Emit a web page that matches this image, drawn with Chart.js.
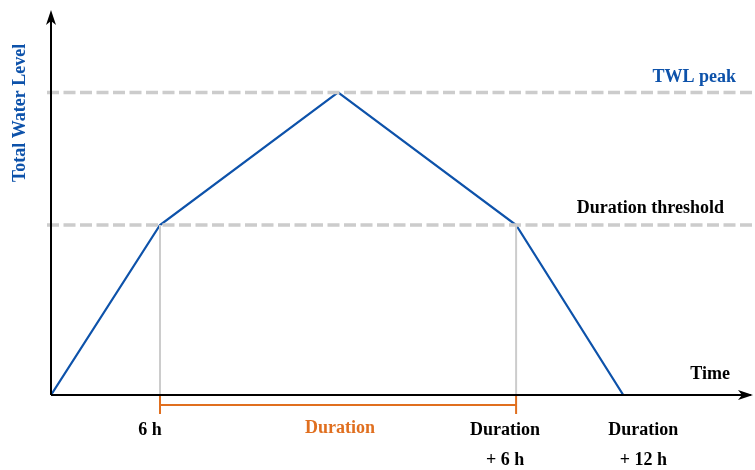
<!DOCTYPE html>
<html>
<head>
<meta charset="utf-8">
<script src="https://cdn.jsdelivr.net/npm/chart.js@4"></script>
<style>
  html, body { margin: 0; padding: 0; background: #fff; }
  #wrap { width: 755px; height: 470px; }
</style>
</head>
<body>
<div id="wrap"><canvas id="myChart"></canvas></div>
<script>
// hydrograph shape (x in hours, y in relative water level)
const timeHours = [0, 6, 15.8, 25.6, 31.5];
const waterLevel = [0, 1, 1.78, 1, 0];
const peakLevel = 1.78;
const thresholdLevel = 1;
const durationStart = 6;
const durationEnd = 25.6;
const xMax = 38.75;
const yMax = 2.265;

const tickLabels = [
  { x: 6, lines: ["6 h"] },
  { x: 25.6, lines: ["Duration", "+ 6 h"] },
  { x: 31.5, lines: ["Duration", "+ 12 h"] },
];
// nudge of each label centre from its tick, in px
const tickShift = [-10, -11, 20];

const BLUE = "#0d52aa";
const ORANGE = "#e06f1f";
const GREY = "#cccccc";
const FONT = "bold 18px 'Liberation Serif', 'Times New Roman', serif";

const pts = (xs, ys) => xs.map((x, i) => ({ x: x, y: ys[i] }));

const overlay = {
  id: "overlay",
  afterDatasetsDraw(chart) {
    const ctx = chart.ctx;
    const xs = chart.scales.x, ys = chart.scales.y;
    const x0 = xs.getPixelForValue(0);
    const y0 = ys.getPixelForValue(0);
    const area = chart.chartArea;
    ctx.save();

    // axes with arrows
    ctx.strokeStyle = "#000";
    ctx.fillStyle = "#000";
    ctx.lineWidth = 2;
    ctx.beginPath();
    ctx.moveTo(x0, y0);
    ctx.lineTo(x0, area.top + 4);
    ctx.moveTo(x0, y0);
    ctx.lineTo(area.right - 4, y0);
    ctx.stroke();
    ctx.beginPath();
    ctx.moveTo(x0, area.top);
    ctx.lineTo(x0 - 5, area.top + 15);
    ctx.lineTo(x0, area.top + 11);
    ctx.lineTo(x0 + 5, area.top + 15);
    ctx.closePath();
    ctx.fill();
    ctx.beginPath();
    ctx.moveTo(area.right - 2, y0);
    ctx.lineTo(area.right - 17, y0 - 5);
    ctx.lineTo(area.right - 13, y0);
    ctx.lineTo(area.right - 17, y0 + 5);
    ctx.closePath();
    ctx.fill();

    // duration bracket
    const bx1 = xs.getPixelForValue(durationStart);
    const bx2 = xs.getPixelForValue(durationEnd);
    ctx.strokeStyle = ORANGE;
    ctx.lineWidth = 2;
    ctx.beginPath();
    ctx.moveTo(bx1, y0 + 1);
    ctx.lineTo(bx1, y0 + 19);
    ctx.moveTo(bx1, y0 + 10);
    ctx.lineTo(bx2, y0 + 10);
    ctx.moveTo(bx2, y0 + 1);
    ctx.lineTo(bx2, y0 + 19);
    ctx.stroke();

    // texts
    ctx.font = FONT;
    ctx.textBaseline = "middle";
    ctx.textAlign = "center";
    ctx.fillStyle = ORANGE;
    ctx.fillText("Duration", (bx1 + bx2) / 2 + 2, y0 + 33);
    ctx.fillStyle = "#000";
    tickLabels.forEach((t, k) => {
      const px = xs.getPixelForValue(t.x) + tickShift[k];
      t.lines.forEach((s, i) => ctx.fillText(s, px, y0 + 35 + i * 30));
    });
    ctx.textAlign = "right";
    ctx.fillText("Time", area.right - 25, y0 - 21);
    ctx.fillText("Duration threshold", area.right - 31, ys.getPixelForValue(thresholdLevel) - 17);
    ctx.fillStyle = BLUE;
    ctx.fillText("TWL peak", area.right - 19, ys.getPixelForValue(peakLevel) - 15);

    ctx.translate(20, ys.getPixelForValue(1.66));
    ctx.rotate(-Math.PI / 2);
    ctx.textAlign = "center";
    ctx.fillText("Total Water Level", 0, 0);
    ctx.restore();
  }
};

new Chart(document.getElementById("myChart"), {
  type: "line",
  data: {
    datasets: [
      { data: pts([-0.22, xMax], [peakLevel, peakLevel]), borderColor: GREY, borderWidth: 3.5, borderDash: [12, 4.5], clip: false },
      { data: pts([-0.22, xMax], [thresholdLevel, thresholdLevel]), borderColor: GREY, borderWidth: 3.5, borderDash: [12, 4.5], clip: false },
      { data: pts([durationStart, durationStart], [0, thresholdLevel]), borderColor: GREY, borderWidth: 2 },
      { data: pts([durationEnd, durationEnd], [0, thresholdLevel]), borderColor: GREY, borderWidth: 2 },
      { data: pts(timeHours, waterLevel), borderColor: BLUE, borderWidth: 2.2 },
    ],
  },
  options: {
    responsive: true,
    maintainAspectRatio: false,
    animation: false,
    layout: { padding: { left: 51, right: 0, top: 10, bottom: 75 } },
    elements: { point: { radius: 0 }, line: { tension: 0 } },
    scales: {
      x: { type: "linear", min: 0, max: xMax, display: false },
      y: { min: 0, max: yMax, display: false },
    },
    plugins: { legend: { display: false }, tooltip: { enabled: false } },
  },
  plugins: [overlay],
});
</script>
</body>
</html>
